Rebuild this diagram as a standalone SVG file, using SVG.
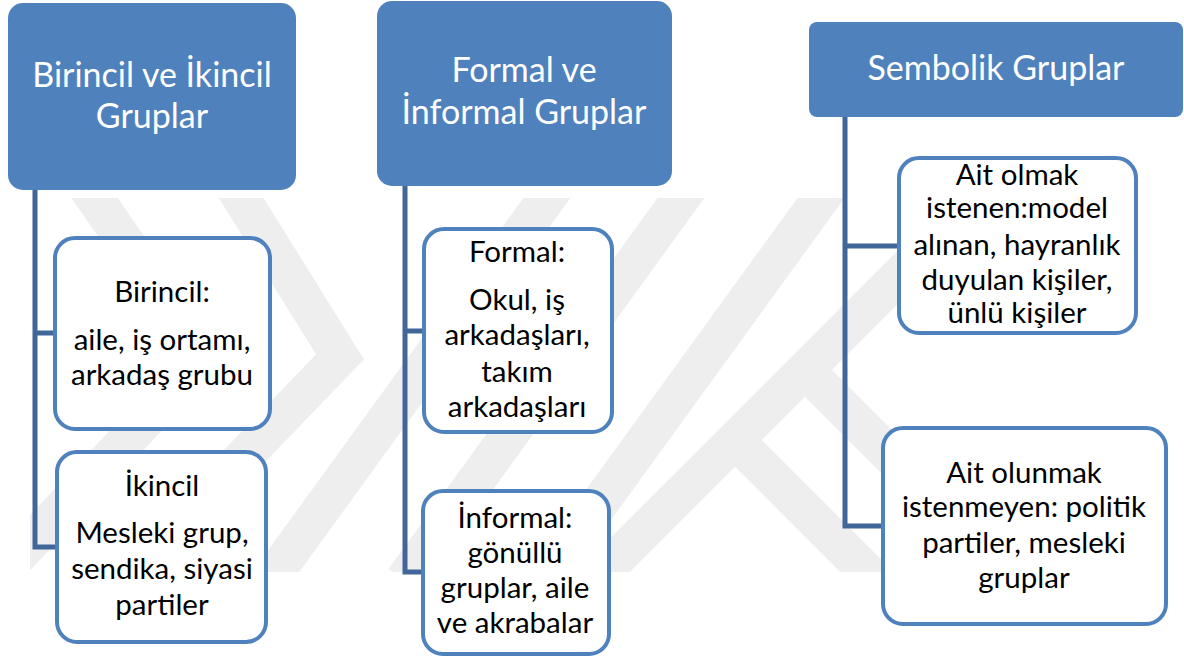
<svg xmlns="http://www.w3.org/2000/svg" width="1184" height="657" viewBox="0 0 1184 657">
  <style>
    .head { fill: #4f81bd; }
    .head-text { fill: #ffffff; font-family: Lato, "Open Sans", sans-serif; font-size: 34px; text-anchor: middle; }
    .item { fill: #ffffff; stroke: #4f81bd; stroke-width: 4; }
    .item-text { fill: #000000; font-family: Lato, "Open Sans", sans-serif; font-size: 29.5px; text-anchor: middle; }
    .link { fill: none; stroke: #41679a; stroke-width: 5; stroke-linejoin: miter; }
    .mark { fill: none; stroke: #eeeeee; stroke-width: 38; stroke-linejoin: miter; stroke-miterlimit: 10; }
  </style>
  <defs>
    <clipPath id="emblem-clip">
      <rect x="30" y="198" width="990" height="374"/>
    </clipPath>
  </defs>

  <rect width="1184" height="657" fill="#ffffff"/>

  <!-- faint background emblem -->
  <g id="emblem" clip-path="url(#emblem-clip)">
    <polyline class="mark" points="82,180 205,357 -5,580"/>
    <polyline class="mark" points="230,180 340,357 125,580"/>
    <line class="mark" x1="560" y1="180" x2="270" y2="580"/>
    <line class="mark" x1="694" y1="180" x2="404" y2="580"/>
    <line class="mark" x1="834" y1="180" x2="544" y2="580"/>
    <line class="mark" x1="990" y1="185" x2="595" y2="580"/>
    <line class="mark" x1="805" y1="370" x2="1020" y2="585"/>
    <line class="mark" x1="735" y1="440" x2="880" y2="585"/>
  </g>

  <!-- connectors -->
  <g id="connectors">
    <polyline class="link" points="35,190 35,547 56,547"/>
    <line class="link" x1="35" y1="333" x2="54" y2="333"/>
    <polyline class="link" points="405,186 405,572 422,572"/>
    <line class="link" x1="405" y1="331" x2="423" y2="331"/>
    <polyline class="link" points="845,117 845,526 882,526"/>
    <line class="link" x1="845" y1="246" x2="898" y2="246"/>
  </g>

  <!-- column 1 -->
  <g id="head-birincil-ikincil">
    <rect class="head" x="8" y="3" width="288" height="187" rx="15"/>
    <text class="head-text" x="152" y="87">Birincil ve İkincil</text>
    <text class="head-text" x="152" y="128">Gruplar</text>
  </g>
  <g id="node-birincil">
    <rect class="item" x="55" y="238" width="215" height="191" rx="20"/>
    <text class="item-text" x="162" y="302">Birincil:</text>
    <text class="item-text" x="162" y="350">aile, iş ortamı,</text>
    <text class="item-text" x="162" y="385">arkadaş grubu</text>
  </g>
  <g id="node-ikincil">
    <rect class="item" x="57" y="452" width="209" height="190" rx="20"/>
    <text class="item-text" x="162" y="496">İkincil</text>
    <text class="item-text" x="162" y="543">Mesleki grup,</text>
    <text class="item-text" x="162" y="579">sendika, siyasi</text>
    <text class="item-text" x="162" y="615">partiler</text>
  </g>

  <!-- column 2 -->
  <g id="head-formal-informal">
    <rect class="head" x="377" y="1" width="295" height="185" rx="15"/>
    <text class="head-text" x="524" y="82">Formal ve</text>
    <text class="head-text" x="524" y="124">İnformal Gruplar</text>
  </g>
  <g id="node-formal">
    <rect class="item" x="424" y="229" width="188" height="203" rx="20"/>
    <text class="item-text" x="517" y="262">Formal:</text>
    <text class="item-text" x="517" y="310">Okul, iş</text>
    <text class="item-text" x="517" y="345">arkadaşları,</text>
    <text class="item-text" x="517" y="382">takım</text>
    <text class="item-text" x="517" y="417">arkadaşları</text>
  </g>
  <g id="node-informal">
    <rect class="item" x="423" y="491" width="186" height="163" rx="20"/>
    <text class="item-text" x="515" y="528">İnformal:</text>
    <text class="item-text" x="515" y="563">gönüllü</text>
    <text class="item-text" x="515" y="598">gruplar, aile</text>
    <text class="item-text" x="515" y="633">ve akrabalar</text>
  </g>

  <!-- column 3 -->
  <g id="head-sembolik">
    <rect class="head" x="809" y="22" width="374" height="95" rx="8"/>
    <text class="head-text" x="996" y="80">Sembolik Gruplar</text>
  </g>
  <g id="node-ait-olmak">
    <rect class="item" x="899" y="158" width="237" height="175" rx="20"/>
    <text class="item-text" x="1017" y="185">Ait olmak</text>
    <text class="item-text" x="1017" y="218">istenen:model</text>
    <text class="item-text" x="1017" y="255">alınan, hayranlık</text>
    <text class="item-text" x="1017" y="290">duyulan kişiler,</text>
    <text class="item-text" x="1017" y="323">ünlü kişiler</text>
  </g>
  <g id="node-ait-olunmak">
    <rect class="item" x="883" y="428" width="283" height="196" rx="20"/>
    <text class="item-text" x="1024" y="483">Ait olunmak</text>
    <text class="item-text" x="1024" y="517">istenmeyen: politik</text>
    <text class="item-text" x="1024" y="553">partiler, mesleki</text>
    <text class="item-text" x="1024" y="588">gruplar</text>
  </g>
</svg>
